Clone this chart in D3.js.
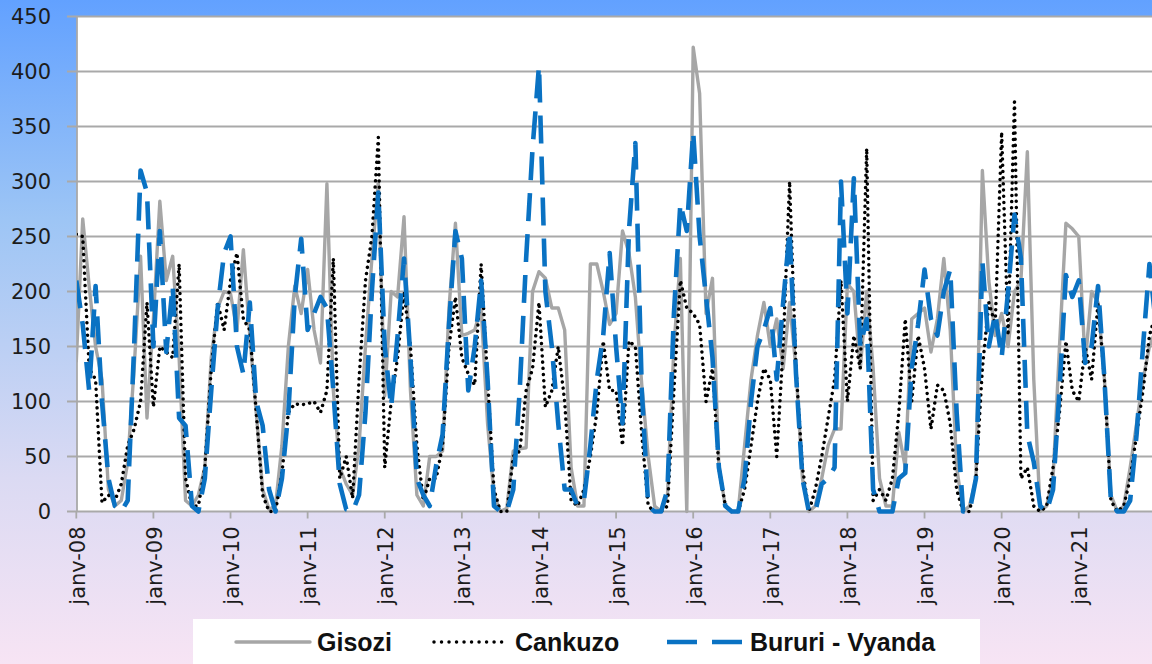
<!DOCTYPE html>
<html><head><meta charset="utf-8">
<script src="https://cdn.jsdelivr.net/npm/d3@7"></script>
<style>body{margin:0;background:#fff;} svg{display:block;}</style>
</head><body><svg id="c" width="1152" height="664"></svg>
<script>
// ---- data ----
const startYear = 2008;
const yTicks = [0, 50, 100, 150, 200, 250, 300, 350, 400, 450];
const xTickLabels = ["janv-08","janv-09","janv-10","janv-11","janv-12","janv-13","janv-14",
  "janv-15","janv-16","janv-17","janv-18","janv-19","janv-20","janv-21"];
const seriesNames = ["Gisozi", "Cankuzo", "Bururi - Vyanda"];

// monthly values, Jan 2008 .. Jan 2022
const gisozi = [
  137,266,205,150,120,20,5,10,45,130,232,85,
  175,282,210,232,140,10,5,15,40,140,185,200,
  198,165,238,160,90,20,2,5,60,150,205,180,
  220,165,135,298,110,40,25,15,60,150,230,300,
  105,200,195,268,110,15,5,50,50,55,185,262,
  160,162,165,185,80,15,0,3,55,57,58,200,
  218,212,185,185,165,40,5,5,225,225,200,170,
  180,255,235,195,115,50,5,0,15,150,230,0,
  422,380,180,212,40,5,0,0,60,120,160,190,
  150,175,130,190,130,30,0,5,30,60,75,75,
  207,200,130,200,130,30,5,5,72,40,175,180,
  185,145,175,230,165,40,0,5,30,310,210,160,
  180,150,200,210,327,120,0,5,30,150,262,257,
  250,135,200,190,120,15,0,5,40,80,120,150,
  165
];
const cankuzo = [
  252,250,130,120,8,15,10,25,60,75,100,190,
  95,150,145,140,225,30,5,5,40,130,190,165,
  210,235,175,165,90,15,0,0,35,90,98,97,
  98,100,90,110,230,30,50,12,120,210,250,340,
  40,100,140,200,150,60,10,30,30,60,150,195,
  140,125,115,225,120,20,0,0,50,55,110,130,
  190,95,110,150,100,10,5,20,50,90,155,110,
  110,60,155,150,70,5,0,0,5,110,210,185,
  180,170,100,130,40,5,0,0,20,60,100,130,
  120,50,150,300,130,40,0,20,50,85,120,210,
  100,160,130,330,10,20,10,30,90,175,100,160,
  130,75,115,110,80,20,0,0,30,130,190,170,
  345,160,375,30,40,5,0,5,40,90,155,110,
  100,150,120,190,120,10,0,5,30,70,110,160,
  180
];
const bururi = [
  210,170,110,205,100,30,5,0,10,150,310,290,
  150,255,145,205,85,78,5,0,30,110,185,235,
  250,150,125,190,100,78,20,0,30,90,195,248,
  165,180,195,185,110,25,2,0,15,90,200,290,
  150,95,160,230,140,30,15,5,42,70,170,255,
  230,110,150,210,120,5,0,0,20,110,230,330,
  405,200,150,80,20,20,5,10,60,120,160,235,
  150,80,255,335,110,5,0,0,20,180,280,255,
  345,250,195,140,40,5,0,0,30,100,150,165,
  185,120,190,255,125,30,0,0,25,30,40,300,
  180,303,150,175,20,0,0,0,30,35,130,170,
  220,175,160,200,220,90,0,0,30,228,150,180,
  140,200,270,230,70,45,5,0,20,110,215,195,
  210,135,150,205,120,10,0,0,10,70,150,225,
  170
];

// ---- layout ----
const W = 1152, H = 664;
const svg = d3.select("#c");
const defs = svg.append("defs");
const grad = defs.append("linearGradient").attr("id","bg").attr("x1",0).attr("y1",0).attr("x2",0).attr("y2",1);
[[0,"#62a1ff"],[0.33,"#9dc5f5"],[0.72,"#dbdaf3"],[1,"#f7e4f4"]].forEach(s =>
  grad.append("stop").attr("offset", s[0]).attr("stop-color", s[1]));
svg.append("rect").attr("width",W).attr("height",H).attr("fill","url(#bg)");

const x = d3.scaleLinear().domain([0,168]).range([76.3, 76.3 + 168*6.426]);
const y = d3.scaleLinear().domain([0,450]).range([511.5, 16.5]);
const pLeft = 77, pRight = 1160, pTop = y(450), pBottom = y(0);

svg.append("rect").attr("x",pLeft).attr("y",pTop).attr("width",pRight-pLeft).attr("height",pBottom-pTop).attr("fill","#fff");

// gridlines + y ticks
const gridCol = "#a9a9a9";
svg.append("g").selectAll("line").data(yTicks).join("line")
  .attr("x1", 67).attr("x2", pRight).attr("y1", d=>y(d)).attr("y2", d=>y(d))
  .attr("stroke", gridCol).attr("stroke-width", 1.8);
svg.append("line").attr("x1",pLeft).attr("x2",pLeft).attr("y1",pTop).attr("y2",pBottom)
  .attr("stroke",gridCol).attr("stroke-width",1.8);

svg.append("g").selectAll("text").data(yTicks).join("text")
  .attr("x", 51).attr("y", d=>y(d)).attr("dy","0.36em")
  .attr("text-anchor","end")
  .attr("font-family","DejaVu Sans, sans-serif").attr("font-size",21)
  .attr("fill","#1c1c1c").text(d=>d);

// x axis ticks
const xTickIdx = xTickLabels.map((d,i)=>i*12);
svg.append("g").selectAll("line").data(xTickIdx).join("line")
  .attr("x1", d=>x(d)).attr("x2", d=>x(d)).attr("y1", pBottom).attr("y2", pBottom+7)
  .attr("stroke", gridCol).attr("stroke-width", 1.8);
svg.append("g").selectAll("text").data(xTickLabels).join("text")
  .attr("transform", (d,i)=>`translate(${x(i*12)+1},${pBottom+15}) rotate(-90)`)
  .attr("text-anchor","end").attr("dy","0.36em")
  .attr("font-family","DejaVu Sans, sans-serif").attr("font-size",21)
  .attr("fill","#1c1c1c").text(d=>d);

// lines
defs.append("clipPath").attr("id","clip").append("rect")
  .attr("x",pLeft).attr("y",0).attr("width",pRight-pLeft).attr("height",pBottom+4);
const line = d3.line().x((d,i)=>x(i)).y(d=>y(d));
const g = svg.append("g").attr("clip-path","url(#clip)");
const styles = [
  {data: gisozi, stroke:"#a6a6a6", width:3.4, dash:null, cap:"round"},
  {data: cankuzo, stroke:"#000", width:3.5, dash:"0.01,6.2", cap:"round"},
  {data: bururi, stroke:"#0a72c3", width:4.6, dash:"28,13", cap:"butt"}
];
styles.forEach(s => {
  g.append("path").datum(s.data).attr("d", line)
    .attr("fill","none").attr("stroke", s.stroke).attr("stroke-width", s.width)
    .attr("stroke-linejoin","round").attr("stroke-linecap", s.cap)
    .attr("stroke-dasharray", s.dash);
});

// legend
const lg = svg.append("g");
lg.append("rect").attr("x",193).attr("y",619).attr("width",787).attr("height",60).attr("fill","#fff");
const legendItems = [
  {x1:236, x2:310, tx:317, s:styles[0]},
  {x1:434, x2:502, tx:515, s:styles[1]},
  {x1:667, x2:742, tx:750, s:styles[2]}
];
legendItems.forEach((it,i) => {
  lg.append("line").attr("x1",it.x1).attr("x2",it.x2).attr("y1",642).attr("y2",642)
    .attr("stroke",it.s.stroke).attr("stroke-width",it.s.width)
    .attr("stroke-linecap", it.s.cap)
    .attr("stroke-dasharray", i===2 ? "30,15" : (i===1 ? "0.01,7.5" : null));
  lg.append("text").attr("x",it.tx).attr("y",651)
    .attr("font-family","Liberation Sans, Arial, sans-serif").attr("font-weight","bold")
    .attr("font-size",25).attr("fill","#111").text(seriesNames[i]);
});
</script></body></html>
